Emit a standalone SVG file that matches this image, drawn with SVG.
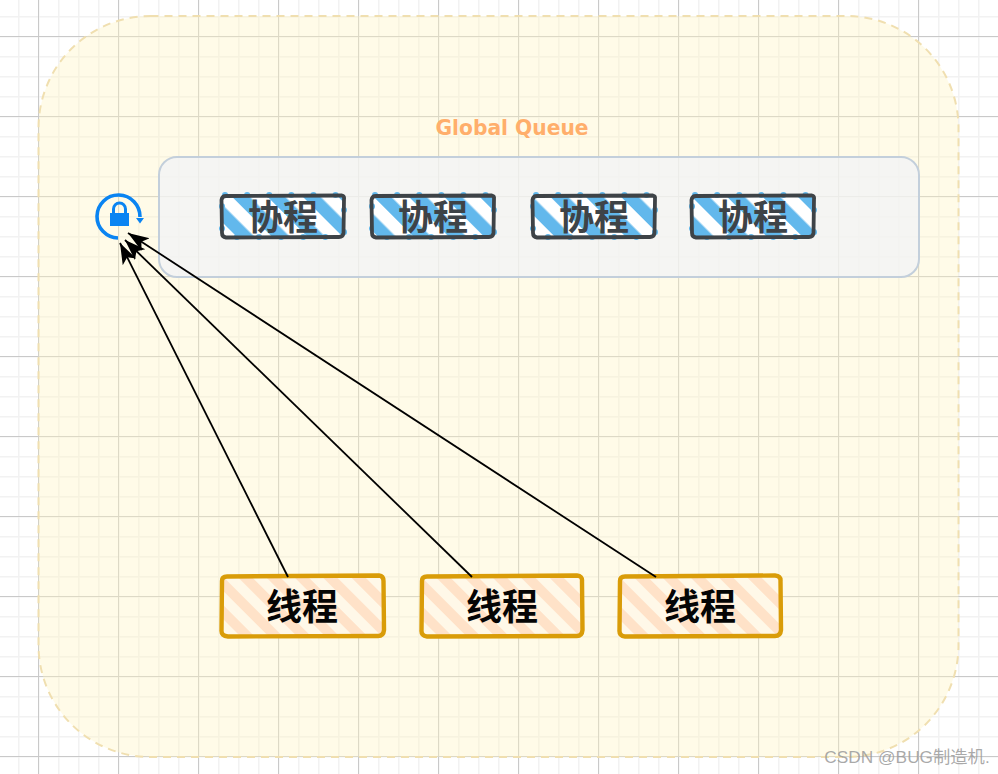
<svg xmlns="http://www.w3.org/2000/svg" width="998" height="774" viewBox="0 0 998 774">
<style>
.cjk{font-family:"Noto Sans CJK SC","Liberation Sans",sans-serif;text-anchor:middle}
.co{font-size:35px;font-weight:700;fill:#3e4347}
.th{font-size:36px;font-weight:700;fill:#050505}
.cobox{fill:none;stroke:#3e4347;stroke-width:3.8;stroke-linejoin:round}
.cofill{fill:url(#blue);stroke:#62b8ec;stroke-width:6;stroke-dasharray:0.1 22;stroke-linecap:round}
.thbox{fill:none;stroke:#d99c08;stroke-width:4.4;stroke-linejoin:round}
.thfill{fill:url(#peach)}
.conn{stroke:#000;stroke-width:1.8;fill:none;marker-end:url(#arr)}
</style>
<defs>
<pattern id="minor" width="20" height="20" patternUnits="userSpaceOnUse" x="-2" y="-4">
<path d="M0.500 0V20M0 0.500H20" stroke="#f2f2f2" stroke-width="2" fill="none"/>
</pattern>
<pattern id="major" width="80" height="80" patternUnits="userSpaceOnUse" x="38" y="36">
<path d="M0.500 0V80M0 0.500H80" stroke="#c9c9c9" stroke-width="1" fill="none"/>
</pattern>
<pattern id="blue" width="25" height="25" patternUnits="userSpaceOnUse" patternTransform="rotate(-45)">
<rect width="25" height="25" fill="#fff"/><rect width="12.500" height="25" fill="#62b8ec"/>
</pattern>
<pattern id="peach" width="20" height="20" patternUnits="userSpaceOnUse" patternTransform="rotate(-45)">
<rect width="20" height="20" fill="#fff8e8"/><rect width="10" height="20" fill="#ffe2c8"/>
</pattern>
<marker id="arr" markerWidth="24" markerHeight="18" refX="21" refY="9" orient="auto" markerUnits="userSpaceOnUse">
<path d="M0 1.500L21 9L0 16.500L5 9Z" fill="#000"/>
</marker>
</defs>
<rect id="bg" width="998" height="774" fill="#fff"/>
<rect id="grid-minor" width="998" height="774" fill="url(#minor)"/>
<rect id="grid-major" width="998" height="774" fill="url(#major)"/>
<path d="M0 36.500H38M0 116.500H38M0 196.500H38M0 276.500H38M0 356.500H38M0 436.500H38M0 516.500H38M0 596.500H38M0 676.500H38M0 756.500H38M38.500 0V36M118.500 0V36M198.500 0V36M278.500 0V36M358.500 0V36M438.500 0V36M518.500 0V36M598.500 0V36M678.500 0V36M758.500 0V36M838.500 0V36M918.500 0V36" stroke="#c9c9c9" fill="none"/>
<g id="global-queue-area">
<rect x="38.500" y="16" width="920" height="741" rx="112" ry="112" fill="#fff3c1" fill-opacity="0.37" stroke="#f0dfb0" stroke-width="2" stroke-dasharray="8 6"/>
<text x="512" y="135" text-anchor="middle" font-family="'DejaVu Sans',sans-serif" font-size="21" font-weight="700" fill="#ffae6b" textLength="153" lengthAdjust="spacingAndGlyphs">Global Queue</text>
</g>
<g id="queue-box">
<rect x="159" y="157" width="760" height="120" rx="18" ry="18" fill="#f1f3f6" fill-opacity="0.72" stroke="#c3cfdb" stroke-width="2"/>
</g>
<g id="lock">
<path d="M140 217A21.500 21.500 0 1 0 118 238" fill="none" stroke="#0a84f2" stroke-width="3.600"/>
<path d="M136 218H144L140 223.500Z" fill="#0a84f2"/>
<path d="M110 213H129V226H110Z" fill="#0a84f2"/>
<path d="M113.500 213V209A6 6 0 0 1 125.500 209V213" fill="none" stroke="#0a84f2" stroke-width="3"/>
</g>
<g id="coroutine-1">
<rect class="cofill" x="222" y="195" width="122" height="42" rx="3"/>
<path class="cobox" d="M226 196L342 195.500Q344.500 196 344 199L343.500 233Q343 237 339 237L226 237.500Q222 237 222 233L221.500 200Q222 196 226 196Z"/>
<text class="cjk co" x="283" y="230">协程</text>
</g>
<g id="coroutine-2">
<rect class="cofill" x="372" y="195" width="122" height="42" rx="3"/>
<path class="cobox" d="M376 196L492 195.500Q494.500 196 494 199L493.500 233Q493 237 489 237L376 237.500Q372 237 372 233L371.500 200Q372 196 376 196Z"/>
<text class="cjk co" x="433" y="230">协程</text>
</g>
<g id="coroutine-3">
<rect class="cofill" x="533" y="195" width="122" height="42" rx="3"/>
<path class="cobox" d="M537 196L653 195.500Q655.500 196 655 199L654.500 233Q654 237 650 237L537 237.500Q533 237 533 233L532.500 200Q533 196 537 196Z"/>
<text class="cjk co" x="594" y="230">协程</text>
</g>
<g id="coroutine-4">
<rect class="cofill" x="692" y="195" width="122" height="42" rx="3"/>
<path class="cobox" d="M696 196L812 195.500Q814.500 196 814 199L813.500 233Q813 237 809 237L696 237.500Q692 237 692 233L691.500 200Q692 196 696 196Z"/>
<text class="cjk co" x="753" y="230">协程</text>
</g>
<g id="thread-1">
<rect class="thfill" x="222" y="576" width="162" height="60" rx="5"/>
<path class="thbox" d="M227 576.500L379 575.500Q383.500 576 383.500 581L384 630Q383.500 636 378 636L228 636.500Q221 636 221.500 630L222 581Q222 576.500 227 576.500Z"/>
<text class="cjk th" x="302" y="620">线程</text>
</g>
<g id="thread-2">
<rect class="thfill" x="422" y="576" width="160" height="60" rx="5"/>
<path class="thbox" d="M427 576.500L577 575.500Q582.500 576 582 581L582.500 630Q582 636 577 636L427 636.500Q421 636 421.500 630L422 581Q422 576.500 427 576.500Z"/>
<text class="cjk th" x="502" y="620">线程</text>
</g>
<g id="thread-3">
<rect class="thfill" x="620" y="576" width="162" height="60" rx="5"/>
<path class="thbox" d="M625 576.500L775 575.500Q781 576 780.500 581L781 630Q780.500 636 775 636L625 636.500Q619 636 619.500 630L620 581Q620 576.500 625 576.500Z"/>
<text class="cjk th" x="700" y="620">线程</text>
</g>
<g id="connectors">
<path class="conn" d="M288 577L120 243"/>
<path class="conn" d="M472 577L125 240"/>
<path class="conn" d="M656 577L128 233"/>
</g>
<text id="watermark" x="907" y="763" text-anchor="middle" font-family="'Liberation Sans','Noto Sans CJK SC',sans-serif" font-size="17.300" fill="#9a9a9a" fill-opacity="0.85">CSDN @BUG制造机.</text>
</svg>
